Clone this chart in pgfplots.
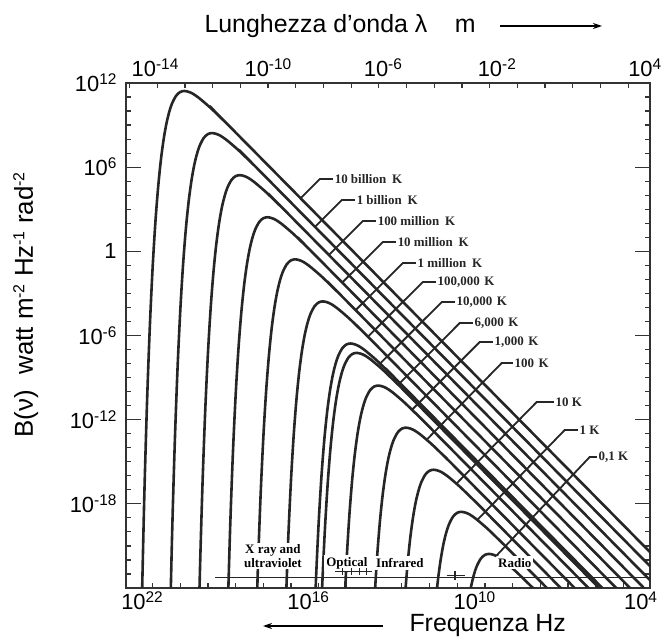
\documentclass[border=0pt]{standalone}
\usepackage{fontspec}
\setmainfont{Liberation Sans}
\newfontfamily\annfont{Liberation Serif}
\usepackage{pgfplots}
\pgfplotsset{compat=1.18}
\usetikzlibrary{arrows.meta}

\newcommand\pw[1]{10\raisebox{7bp}{\fontsize{15.5}{15.5}\selectfont #1}}
\newcommand\sps[1]{\raisebox{8.5bp}{\fontsize{16}{16}\selectfont #1}}

\pgfplotsset{
  curve/.style={line width=2.6bp, color=black!85, smooth, tension=0.5, mark=none},
}
\tikzset{
  leader/.style={line width=1.8bp, color=black!85},
  thin mark/.style={line width=1.1bp, color=black!85},
  lab/.style={anchor=west, inner sep=1bp, font=\annfont\bfseries\fontsize{13}{13}\selectfont},
  band/.style={fill=white, inner sep=2bp, align=center, font=\annfont\bfseries\fontsize{13}{13.5}\selectfont},
}

\begin{document}
\begin{tikzpicture}
\begin{axis}[
  name=ax,
  scale only axis,
  width=524bp, height=505bp,
  x dir=reverse,
  xmin=3.66, xmax=22.58,
  ymin=-24, ymax=12,
  axis line style={line width=1.6bp, color=black!80},
  tick style={line width=1.2bp, color=black!80},
  tick align=inside,
  major tick length=15bp, minor tick length=5bp,
  xtick pos=bottom,
  xtick={22,16,10,4},
  xticklabels={\pw{22},\pw{16},\pw{10},\pw{4}},
  major x tick style={draw=none},
  minor xtick={4.62,5.62,6.62,7.62,8.62,9.62,10.62,11.62,12.62,13.62,14.62,15.62,16.62,17.62,18.62,19.62,20.62,21.62},
  ytick={12,6,0,-6,-12,-18},
  yticklabels={\pw{12},\pw{6},1,\pw{-6},\pw{-12},\pw{-18}},
  minor ytick={-23,-22,...,11},
  ticklabel style={font=\fontsize{22}{24}\selectfont},
  yticklabel style={xshift=-6bp},
]

% 10 billion K
\addplot[curve] coordinates {(22.02,-26.19)(21.92,-17.55)(21.82,-10.75)(21.72,-5.40)(21.62,-1.23)(21.52,2.03)(21.42,4.56)(21.32,6.51)(21.22,7.99)(21.12,9.11)(21.02,9.93)(20.92,10.53)(20.77,11.09)(20.62,11.36)(20.47,11.43)(20.32,11.37)(20.17,11.24)(19.97,10.97)(19.72,10.56)(19.47,10.12)(18.97,9.16)(18.47,8.17)(3.0,-22.76)};
% 1 billion K
\addplot[curve] coordinates {(21.02,-29.19)(20.92,-20.55)(20.82,-13.75)(20.72,-8.40)(20.62,-4.23)(20.52,-0.97)(20.42,1.56)(20.32,3.51)(20.22,4.99)(20.12,6.11)(20.02,6.93)(19.92,7.53)(19.77,8.09)(19.62,8.36)(19.47,8.43)(19.32,8.37)(19.17,8.24)(18.97,7.97)(18.72,7.56)(18.47,7.12)(17.97,6.16)(17.47,5.17)(3.0,-23.76)};
% 100 million K
\addplot[curve] coordinates {(20.02,-32.19)(19.92,-23.55)(19.82,-16.75)(19.72,-11.40)(19.62,-7.23)(19.52,-3.97)(19.42,-1.44)(19.32,0.51)(19.22,1.99)(19.12,3.11)(19.02,3.93)(18.92,4.53)(18.77,5.09)(18.62,5.36)(18.47,5.43)(18.32,5.37)(18.17,5.24)(17.97,4.97)(17.72,4.56)(17.47,4.12)(16.97,3.16)(16.47,2.17)(3.0,-24.76)};
% 10 million K
\addplot[curve] coordinates {(18.92,-26.55)(18.82,-19.75)(18.72,-14.40)(18.62,-10.23)(18.52,-6.97)(18.42,-4.44)(18.32,-2.49)(18.22,-1.01)(18.12,0.11)(18.02,0.93)(17.92,1.53)(17.77,2.09)(17.62,2.36)(17.47,2.43)(17.32,2.37)(17.17,2.24)(16.97,1.97)(16.72,1.56)(16.47,1.12)(15.97,0.16)(15.47,-0.83)(3.0,-25.76)};
% 1 million K
\addplot[curve] coordinates {(17.92,-29.55)(17.82,-22.75)(17.72,-17.40)(17.62,-13.23)(17.52,-9.97)(17.42,-7.44)(17.32,-5.49)(17.22,-4.01)(17.12,-2.89)(17.02,-2.07)(16.92,-1.47)(16.77,-0.91)(16.62,-0.64)(16.47,-0.57)(16.32,-0.63)(16.17,-0.76)(15.97,-1.03)(15.72,-1.44)(15.47,-1.88)(14.97,-2.84)(14.47,-3.83)(3.0,-26.76)};
% 100,000 K
\addplot[curve] coordinates {(16.82,-25.75)(16.72,-20.40)(16.62,-16.23)(16.52,-12.97)(16.42,-10.44)(16.32,-8.49)(16.22,-7.01)(16.12,-5.89)(16.02,-5.07)(15.92,-4.47)(15.77,-3.91)(15.62,-3.64)(15.47,-3.57)(15.32,-3.63)(15.17,-3.76)(14.97,-4.03)(14.72,-4.44)(14.47,-4.88)(13.97,-5.84)(13.47,-6.83)(3.0,-27.76)};
% 10,000 K
\addplot[curve] coordinates {(15.82,-28.75)(15.72,-23.40)(15.62,-19.23)(15.52,-15.97)(15.42,-13.44)(15.32,-11.49)(15.22,-10.01)(15.12,-8.89)(15.02,-8.07)(14.92,-7.47)(14.77,-6.91)(14.62,-6.64)(14.47,-6.57)(14.32,-6.63)(14.17,-6.76)(13.97,-7.03)(13.72,-7.44)(13.47,-7.88)(12.97,-8.84)(12.47,-9.83)(3.0,-28.76)};
% 6,000 K
\addplot[curve] coordinates {(15.60,-29.42)(15.50,-24.07)(15.40,-19.90)(15.30,-16.64)(15.20,-14.11)(15.10,-12.16)(15.00,-10.68)(14.90,-9.56)(14.80,-8.74)(14.70,-8.14)(14.55,-7.58)(14.40,-7.31)(14.25,-7.24)(14.10,-7.30)(13.95,-7.43)(13.75,-7.70)(13.50,-8.11)(13.25,-8.55)(12.75,-9.51)(12.25,-10.50)(3.0,-28.99)};
% 1,000 K
\addplot[curve] coordinates {(14.72,-26.40)(14.62,-22.23)(14.52,-18.97)(14.42,-16.44)(14.32,-14.49)(14.22,-13.01)(14.12,-11.89)(14.02,-11.07)(13.92,-10.47)(13.77,-9.91)(13.62,-9.64)(13.47,-9.57)(13.32,-9.63)(13.17,-9.76)(12.97,-10.03)(12.72,-10.44)(12.47,-10.88)(11.97,-11.84)(11.47,-12.83)(3.0,-29.76)};
% 100 K
\addplot[curve] coordinates {(13.62,-25.23)(13.52,-21.97)(13.42,-19.44)(13.32,-17.49)(13.22,-16.01)(13.12,-14.89)(13.02,-14.07)(12.92,-13.47)(12.77,-12.91)(12.62,-12.64)(12.47,-12.57)(12.32,-12.63)(12.17,-12.76)(11.97,-13.03)(11.72,-13.44)(11.47,-13.88)(10.97,-14.84)(10.47,-15.83)(3.0,-30.76)};
% 10 K
\addplot[curve] coordinates {(12.62,-28.23)(12.52,-24.97)(12.42,-22.44)(12.32,-20.49)(12.22,-19.01)(12.12,-17.89)(12.02,-17.07)(11.92,-16.47)(11.77,-15.91)(11.62,-15.64)(11.47,-15.57)(11.32,-15.63)(11.17,-15.76)(10.97,-16.03)(10.72,-16.44)(10.47,-16.88)(9.97,-17.84)(9.47,-18.83)(3.0,-31.76)};
% 1 K
\addplot[curve] coordinates {(11.52,-27.97)(11.42,-25.44)(11.32,-23.49)(11.22,-22.01)(11.12,-20.89)(11.02,-20.07)(10.92,-19.47)(10.77,-18.91)(10.62,-18.64)(10.47,-18.57)(10.32,-18.63)(10.17,-18.76)(9.97,-19.03)(9.72,-19.44)(9.47,-19.88)(8.97,-20.84)(8.47,-21.83)(3.0,-32.76)};
% 0,1 K
\addplot[curve] coordinates {(10.42,-28.44)(10.32,-26.49)(10.22,-25.01)(10.12,-23.89)(10.02,-23.07)(9.92,-22.47)(9.77,-21.91)(9.62,-21.64)(9.47,-21.57)(9.32,-21.63)(9.17,-21.76)(8.97,-22.03)(8.72,-22.44)(8.47,-22.88)(7.97,-23.84)(7.47,-24.83)(3.0,-33.76)};

% spectral bands
\node[band] at (axis cs:17.275,-21.71) {X ray and\\ultraviolet};
\node[band] at (axis cs:14.605,-22.21) {Optical};
\node[band] at (axis cs:12.692,-22.21) {Infrared};
\node[band] at (axis cs:8.542,-22.21) {Radio};
\draw[thin mark] (axis cs:19.37,-23.28) -- (axis cs:3.8,-23.28);
\draw[thin mark] (axis cs:15.04,-22.85) -- (axis cs:13.70,-22.85);
\draw[thin mark] (axis cs:14.75,-22.6) -- (axis cs:14.75,-23.1);
\draw[thin mark] (axis cs:14.45,-22.6) -- (axis cs:14.45,-23.1);
\draw[thin mark] (axis cs:14.15,-22.6) -- (axis cs:14.15,-23.1);
\draw[thin mark] (axis cs:13.90,-22.6) -- (axis cs:13.90,-23.1);
\draw[thin mark] (axis cs:11.0,-23.1) -- (axis cs:10.35,-23.1);
\draw[thin mark] (axis cs:10.7,-22.8) -- (axis cs:10.7,-23.4);

% temperature labels
\draw[leader] (axis cs:16.275,3.787) -- (axis cs:15.579,5.158) -- ++(13bp,0bp) node[lab] {10 billion\hspace{0.45em}K};
\draw[leader] (axis cs:15.756,1.749) -- (axis cs:14.785,3.661) -- ++(13bp,0bp) node[lab] {1 billion\hspace{0.45em}K};
\draw[leader] (axis cs:15.254,-0.255) -- (axis cs:14.027,2.164) -- ++(13bp,0bp) node[lab] {100 million\hspace{0.45em}K};
\draw[leader] (axis cs:14.771,-2.221) -- (axis cs:13.305,0.667) -- ++(13bp,0bp) node[lab] {10 million\hspace{0.45em}K};
\draw[leader] (axis cs:14.287,-4.189) -- (axis cs:12.584,-0.830) -- ++(13bp,0bp) node[lab] {1 million\hspace{0.45em}K};
\draw[leader] (axis cs:13.840,-6.083) -- (axis cs:11.862,-2.184) -- ++(13bp,0bp) node[lab] {100,000\hspace{0.35em}K};
\draw[leader] (axis cs:13.392,-7.979) -- (axis cs:11.176,-3.609) -- ++(13bp,0bp) node[lab] {10,000\hspace{0.35em}K};
\draw[leader] (axis cs:12.746,-9.493) -- (axis cs:10.527,-5.106) -- ++(13bp,0bp) node[lab] {6,000\hspace{0.35em}K};
\draw[leader] (axis cs:12.244,-11.275) -- (axis cs:9.805,-6.460) -- ++(13bp,0bp) node[lab] {1,000\hspace{0.35em}K};
\draw[leader] (axis cs:11.725,-13.43) -- (axis cs:9.011,-7.957) -- ++(11bp,0bp) node[lab] {100\hspace{0.35em}K};
\draw[leader] (axis cs:10.649,-16.56) -- (axis cs:7.748,-10.737) -- ++(17bp,0bp) node[lab] {10 K};
\draw[leader] (axis cs:9.895,-19.15) -- (axis cs:6.737,-12.733) -- ++(13bp,0bp) node[lab] {1 K};
\draw[leader] (axis cs:9.217,-21.72) -- (axis cs:5.835,-14.657) -- ++(7bp,0bp) node[lab] {0,1 K};
\end{axis}

% wavelength axis on top
\begin{axis}[
  scale only axis,
  width=524bp, height=505bp,
  at={(ax.south west)}, anchor=south west,
  x dir=reverse,
  xmin=3.66, xmax=22.58,
  ymin=-24, ymax=12,
  axis x line*=top, axis y line=none,
  axis line style={line width=1.6bp, color=black!80},
  tick style={line width=1.2bp, color=black!80},
  tick align=inside,
  minor tick length=5bp,
  xtick={21.53,17.455,13.305,9.19,3.85},
  xticklabels={\pw{-14},\pw{-10},\pw{-6},\pw{-2},\pw{4}},
  major x tick style={draw=none},
  minor xtick={4.45,5.45,6.45,7.45,8.45,9.45,10.45,11.45,12.45,13.45,14.45,15.45,16.45,17.45,18.45,19.45,20.45,21.45,22.45},
  ticklabel style={font=\fontsize{22}{24}\selectfont},
  xticklabel style={yshift=3bp},
]
\end{axis}

\node[anchor=west, font=\fontsize{25}{27}\selectfont] at ([shift={(280bp,-38bp)}]ax.south west) {Frequenza Hz};
\draw[line width=1.2bp, -{Stealth[length=9bp,width=6bp]}] ([shift={(257bp,-38bp)}]ax.south west) -- ([shift={(137bp,-38bp)}]ax.south west);
\node[anchor=west, font=\fontsize{25}{27}\selectfont] at ([shift={(75bp,57bp)}]ax.north west) {Lunghezza d’onda λ\hspace{1.1em}m};
\draw[line width=1.2bp, -{Stealth[length=9bp,width=6bp]}] ([shift={(374bp,57bp)}]ax.north west) -- ([shift={(476bp,57bp)}]ax.north west);
\node[rotate=90, anchor=base, font=\fontsize{26}{28}\selectfont] at ([shift={(-93bp,283bp)}]ax.south west) {B(ν)\hspace{0.6em}watt m\sps{-2} Hz\sps{-1} rad\sps{-2}};

\pgfresetboundingbox
\path ([shift={(-126bp,-51bp)}]ax.south west) rectangle ([shift={(15bp,83bp)}]ax.north east);
\end{tikzpicture}
\end{document}
